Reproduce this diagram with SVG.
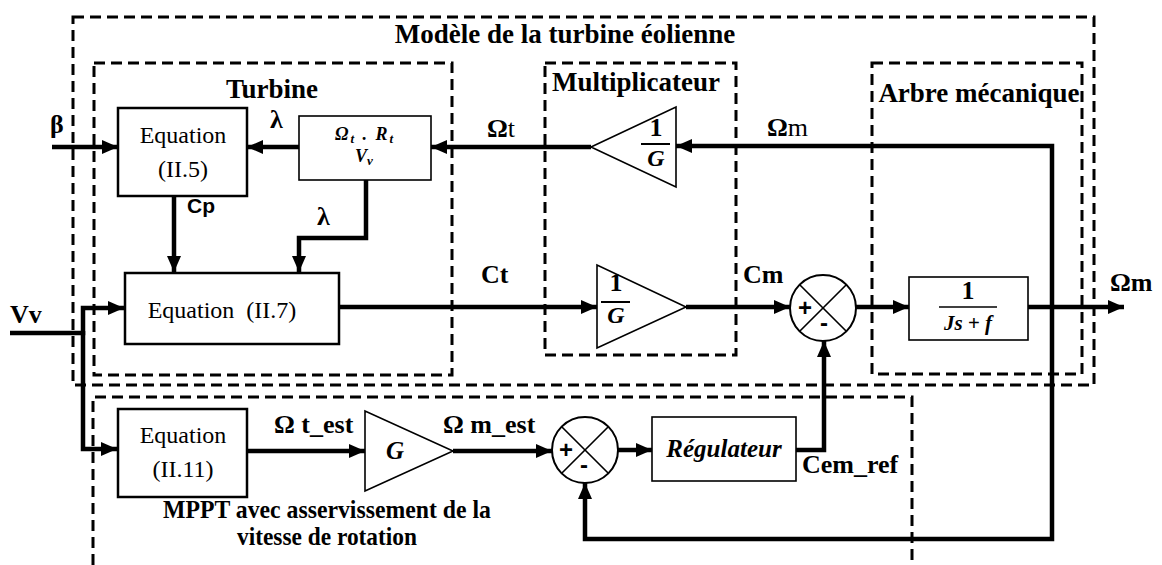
<svg xmlns="http://www.w3.org/2000/svg" width="1162" height="565" viewBox="0 0 1162 565">
<style>
.dash{fill:none;stroke:#000;stroke-width:3;stroke-dasharray:11 6}
.blk{fill:#fff;stroke:#000;stroke-width:2.5}
.thin{fill:#fff;stroke:#000;stroke-width:1.6}
.w{fill:none;stroke:#000;stroke-width:4.5;stroke-linejoin:miter}
.hd{font-family:"Liberation Serif",serif;font-weight:bold;font-size:27px;fill:#000}
.lb{font-family:"Liberation Serif",serif;font-weight:bold;font-size:26px;fill:#000}
.eq{font-family:"Liberation Serif",serif;font-size:24px;fill:#000}
.mt{font-family:"Liberation Serif",serif;font-weight:bold;font-style:italic;fill:#000}
.sg{font-family:"Liberation Sans",sans-serif;font-weight:bold;font-size:24px;fill:#000}
</style>
<defs>
<marker id="ah" markerUnits="userSpaceOnUse" markerWidth="18" markerHeight="16" refX="16" refY="8" orient="auto">
<path d="M0,1 L16,8 L0,15 Z" fill="#000"/>
</marker>
</defs>
<g id="frames">
<rect class="dash" x="73" y="17" width="1021" height="368"/>
<rect class="dash" x="94" y="63" width="358" height="312"/>
<rect class="dash" x="545" y="63" width="191" height="292"/>
<rect class="dash" x="872" y="63" width="210" height="311"/>
<path class="dash" d="M93,565 V397 H912 V565"/>
<text class="hd" x="565" y="43" text-anchor="middle">Modèle de la turbine éolienne</text>
<text class="hd" x="272" y="98" text-anchor="middle">Turbine</text>
<text class="hd" x="636" y="91" text-anchor="middle">Multiplicateur</text>
<text class="hd" x="979" y="102" text-anchor="middle">Arbre mécanique</text>
<text class="lb" x="327" y="518" text-anchor="middle" font-size="18" textLength="328" lengthAdjust="spacingAndGlyphs">MPPT avec asservissement de la</text>
<text class="lb" x="327" y="545" text-anchor="middle" font-size="18" textLength="180" lengthAdjust="spacingAndGlyphs">vitesse de rotation</text>
</g>
<g id="connectors">
<path class="w" d="M52,147 H118" marker-end="url(#ah)"/>
<path class="w" d="M299,147 H247" marker-end="url(#ah)"/>
<path class="w" d="M591,147 H431" marker-end="url(#ah)"/>
<path class="w" d="M1052,309 V146 H676" marker-end="url(#ah)"/>
<path class="w" d="M1052,305 V539 H585 V483" marker-end="url(#ah)"/>
<path class="w" d="M366,180 V238 H299 V272" marker-end="url(#ah)"/>
<path class="w" d="M174,196 V272" marker-end="url(#ah)"/>
<path class="w" d="M339,307 H597" marker-end="url(#ah)"/>
<path class="w" d="M686,307 H790" marker-end="url(#ah)"/>
<path class="w" d="M856,307 H909" marker-end="url(#ah)"/>
<path class="w" d="M1028,307 H1124" marker-end="url(#ah)"/>
<path class="w" d="M10,333 H83 V308 H124" marker-end="url(#ah)"/>
<path class="w" d="M83,331 V449 H117" marker-end="url(#ah)"/>
<path class="w" d="M247,451 H365" marker-end="url(#ah)"/>
<path class="w" d="M453,451 H552" marker-end="url(#ah)"/>
<path class="w" d="M618,450 H652" marker-end="url(#ah)"/>
<path class="w" d="M796,450 H824 V341" marker-end="url(#ah)"/>
<text class="lb" x="50" y="133">β</text>
<text class="lb" x="270" y="128">λ</text>
<text class="lb" x="487" y="137">Ω<tspan font-weight="normal">t</tspan></text>
<text class="lb" x="767" y="136">Ω<tspan font-weight="normal">m</tspan></text>
<text x="187" y="213" font-family="Liberation Sans,sans-serif" font-weight="bold" font-size="21">Cp</text>
<text class="lb" x="317" y="225">λ</text>
<text class="lb" x="481" y="283">Ct</text>
<text class="lb" x="743" y="283">Cm</text>
<text class="lb" x="1110" y="291">Ωm</text>
<text class="lb" x="10" y="323">Vv</text>
<text class="lb" x="274" y="433">Ω t_est</text>
<text class="lb" x="443" y="433">Ω m_est</text>
<text class="lb" x="802" y="473">Cem_ref</text>
</g>
<g id="eq5">
<rect class="blk" x="118" y="108" width="129" height="88"/>
<text class="eq" x="183" y="143" text-anchor="middle">Equation</text>
<text class="eq" x="183" y="177" text-anchor="middle">(II.5)</text>
</g>
<g id="lambda-calc">
<rect class="thin" x="299" y="116" width="132" height="64"/>
<text class="mt" x="335" y="140" font-size="18" letter-spacing="2">Ω<tspan font-size="13" dy="3">t</tspan><tspan dy="-3"> . R</tspan><tspan font-size="13" dy="3">t</tspan></text>
<text class="mt" x="364" y="162" text-anchor="middle" font-size="18">V<tspan font-size="13" dy="3">v</tspan></text>
</g>
<g id="eq7">
<rect class="blk" x="125" y="273" width="214" height="71"/>
<text class="eq" x="222" y="318" text-anchor="middle" xml:space="preserve">Equation  (II.7)</text>
</g>
<g id="gain-top">
<path class="thin" d="M591,147 L676,107 L676,187 Z"/>
<text class="lb" x="656" y="136" text-anchor="middle" font-size="24">1</text>
<line x1="641" y1="144" x2="670" y2="144" stroke="#000" stroke-width="2"/>
<text class="mt" x="656" y="166" text-anchor="middle" font-size="24">G</text>
</g>
<g id="gain-bottom">
<path class="thin" d="M597,265 L597,348 L686,307 Z"/>
<text class="lb" x="616" y="291" text-anchor="middle" font-size="24">1</text>
<line x1="601" y1="302" x2="630" y2="302" stroke="#000" stroke-width="2"/>
<text class="mt" x="616" y="323" text-anchor="middle" font-size="24">G</text>
</g>
<g id="sum-top">
<circle cx="823" cy="308" r="33" fill="#fff" stroke="#000" stroke-width="2"/>
<path d="M799.7,284.7 L846.3,331.3 M846.3,284.7 L799.7,331.3" stroke="#000" stroke-width="1.6"/>
<text class="sg" x="805" y="316" text-anchor="middle">+</text>
<text class="sg" x="824" y="331" text-anchor="middle">-</text>
</g>
<g id="shaft">
<rect class="thin" x="909" y="277" width="119" height="63"/>
<text class="lb" x="968" y="299" text-anchor="middle" font-size="20">1</text>
<line x1="939" y1="307" x2="997" y2="307" stroke="#000" stroke-width="1.6"/>
<text class="mt" x="968" y="330" text-anchor="middle" font-size="21" xml:space="preserve">Js + f</text>
</g>
<g id="eq11">
<rect class="blk" x="118" y="409" width="129" height="88"/>
<text class="eq" x="183" y="443" text-anchor="middle">Equation</text>
<text class="eq" x="183" y="477" text-anchor="middle">(II.11)</text>
</g>
<g id="gain-g">
<path class="thin" d="M365,411 L365,491 L453,451 Z"/>
<text class="mt" x="395" y="459" text-anchor="middle" font-size="25">G</text>
</g>
<g id="sum-bottom">
<circle cx="585" cy="450" r="33" fill="#fff" stroke="#000" stroke-width="2"/>
<path d="M561.7,426.7 L608.3,473.3 M608.3,426.7 L561.7,473.3" stroke="#000" stroke-width="1.6"/>
<text class="sg" x="566" y="458" text-anchor="middle">+</text>
<text class="sg" x="584" y="473" text-anchor="middle">-</text>
</g>
<g id="regulator">
<rect class="thin" x="652" y="417" width="144" height="64"/>
<text class="mt" x="724" y="457" text-anchor="middle" font-size="25">Régulateur</text>
</g>
</svg>
